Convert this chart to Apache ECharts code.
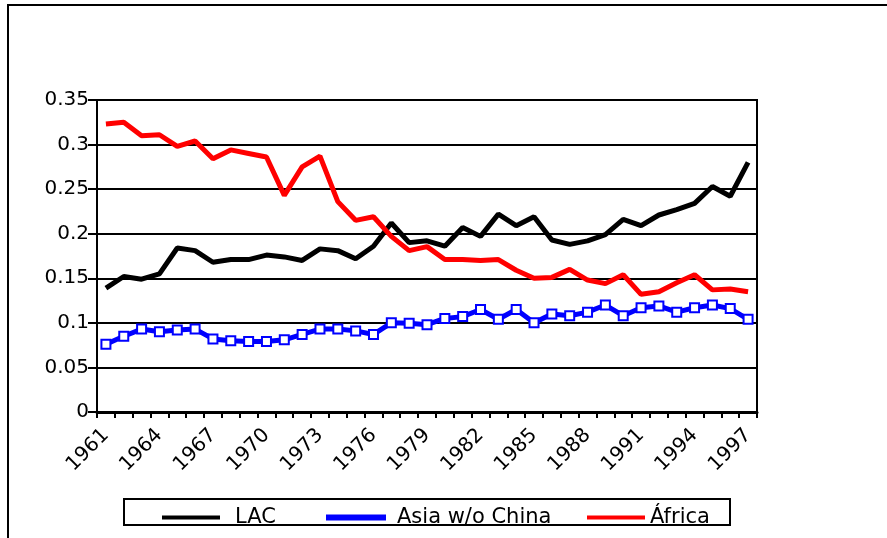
<!DOCTYPE html>
<html>
<head>
<meta charset="utf-8">
<script src="https://cdn.jsdelivr.net/npm/echarts@6/dist/echarts.min.js"></script>
<style>
html,body{margin:0;padding:0;background:#fff;}
#chart{width:887px;height:538px;}
</style>
</head>
<body>
<div id="chart"></div>
<script>
const years = [];
for (let y = 1961; y <= 1997; y++) years.push(String(y));

const yTicks = [0, 0.05, 0.1, 0.15, 0.2, 0.25, 0.3, 0.35];

const lac = [0.139,0.152,0.149,0.155,0.184,0.181,0.168,0.171,0.171,0.176,
             0.174,0.170,0.183,0.181,0.172,0.186,0.212,0.190,0.192,0.186,
             0.207,0.197,0.222,0.209,0.219,0.193,0.188,0.192,0.199,0.216,
             0.209,0.221,0.227,0.234,0.253,0.242,0.280];

const asia = [0.076,0.085,0.093,0.090,0.092,0.093,0.082,0.080,0.079,0.079,
              0.081,0.087,0.093,0.093,0.091,0.087,0.100,0.0995,0.098,0.105,
              0.107,0.115,0.104,0.115,0.100,0.110,0.108,0.112,0.120,0.108,
              0.117,0.119,0.112,0.117,0.120,0.116,0.104];

const africa = [0.323,0.325,0.310,0.311,0.298,0.304,0.284,0.294,0.290,0.286,
                0.243,0.275,0.287,0.236,0.215,0.219,0.197,0.181,0.1855,0.171,
                0.171,0.170,0.171,0.159,0.150,0.151,0.160,0.148,0.144,0.154,
                0.132,0.135,0.145,0.154,0.137,0.138,0.135];

const names = ['LAC', 'Asia w/o China', 'África'];
const colors = ['#000000', '#0000ff', '#ff0000'];

const FONT = 'DejaVu Sans';
const chart = echarts.init(document.getElementById('chart'));

function legendFor(i, left, gapPad) {
  return {
    data: [{name: names[i], icon: 'rect'}],
    left: left, top: 507, padding: 0,
    itemWidth: 58, itemHeight: 4,
    selectedMode: false,
    textStyle: {fontFamily: FONT, fontSize: 21, color: '#000', padding: [0, 0, 0, gapPad]}
  };
}

chart.setOption({
  animation: false,
  backgroundColor: '#fff',
  graphic: [
    {type: 'rect', shape: {x: 8, y: 5, width: 900, height: 600},
     style: {fill: 'none', stroke: '#000', lineWidth: 2}, silent: true},
    {type: 'rect', shape: {x: 124, y: 499, width: 606, height: 26},
     style: {fill: 'none', stroke: '#000', lineWidth: 2}, silent: true}
  ],
  legend: [legendFor(0, 162, 10), legendFor(1, 326, 7), legendFor(2, 587, 0)],
  grid: {left: 97, right: 130, top: 100, bottom: 126, show: true,
         borderColor: '#000', borderWidth: 2, backgroundColor: 'transparent'},
  xAxis: {
    type: 'category', data: years, boundaryGap: true,
    axisLine: {lineStyle: {color: '#000', width: 3}},
    axisTick: {show: true, interval: 0, length: 6, lineStyle: {color: '#000', width: 2}},
    axisLabel: {interval: 2, rotate: 45, margin: 20, color: '#000', fontFamily: FONT, fontSize: 20},
    splitLine: {show: false}
  },
  yAxis: {
    type: 'value', min: yTicks[0], max: yTicks[yTicks.length - 1], interval: 0.05,
    axisLine: {show: true, lineStyle: {color: '#000', width: 2}},
    axisTick: {show: true, length: 9, lineStyle: {color: '#000', width: 2}},
    axisLabel: {margin: 8, color: '#000', fontFamily: FONT, fontSize: 20,
                formatter: v => String(+v.toFixed(2))},
    splitLine: {show: true, lineStyle: {color: '#000', width: 2}}
  },
  series: [
    {name: names[0], type: 'line', data: lac, symbol: 'none',
     lineStyle: {color: colors[0], width: 5}, itemStyle: {color: colors[0]}},
    {name: names[1], type: 'line', data: asia, symbol: 'emptyRect', symbolSize: 9,
     lineStyle: {color: colors[1], width: 5},
     itemStyle: {color: colors[1], borderColor: colors[1], borderWidth: 2}},
    {name: names[2], type: 'line', data: africa, symbol: 'none',
     lineStyle: {color: colors[2], width: 5}, itemStyle: {color: colors[2]}}
  ]
});
</script>
</body>
</html>
